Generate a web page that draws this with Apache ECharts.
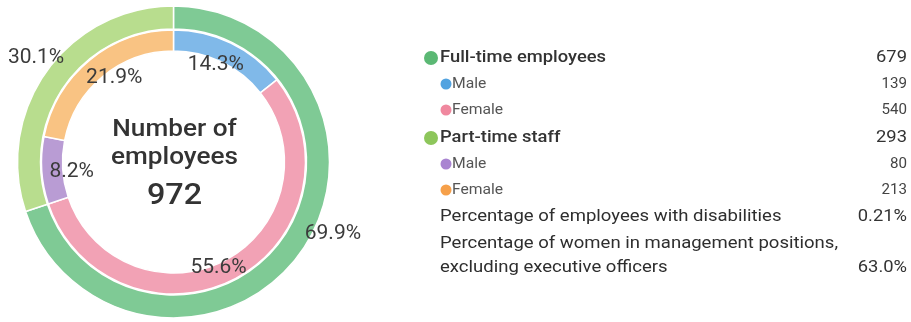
<!DOCTYPE html>
<html><head><meta charset="utf-8">
<script src="https://cdn.jsdelivr.net/npm/echarts@6/dist/echarts.min.js"></script>
<style>html,body{margin:0;padding:0;background:#fff}#c{width:911px;height:322px}</style>
</head><body><div id="c"></div>
<script>
// ---- data ----
const outerNames = ['Full-time employees', 'Part-time staff'];
const outerValues = [679, 293];
const outerPct = ['69.9%', '30.1%'];
const innerNames = ['Male', 'Female', 'Male', 'Female'];
const innerValues = [139, 540, 80, 213];
const innerPct = ['14.3%', '55.6%', '8.2%', '21.9%'];
const centerTitle = ['Number of', 'employees'];
const totalEmployees = 972;
const extraLabels = ['Percentage of employees with disabilities', 'Percentage of women in management positions,\nexcluding executive officers'];
const extraValues = ['0.21%', '63.0%'];

// ---- styles ----
const outerColors = ['#7fca95', '#b8dd8e'];
const innerColors = ['#80b9e9', '#f2a2b5', '#b99cd4', '#f9c383'];
const outerDot = ['#5bb874', '#8dc65b'];
const innerDot = ['#52a3e0', '#f0889f', '#a984d1', '#f6a04a'];
const cx = 173.5, cy = 162;
const FONT = 'Roboto, sans-serif';
const SX = 1.08;

const outerLabelOffsets = [[19, -29], [3, -3]];
const innerLabelOffsets = [[-5, 1], [-7, 10], [7, 3], [10, 0]];

const chart = echarts.init(document.getElementById('c'), null, {renderer: 'canvas'});

const ringBase = {
  type: 'pie', center: [cx, cy], startAngle: 90, clockwise: true, silent: true,
  label: {show: false}, labelLine: {show: false}, animation: false,
  itemStyle: {borderColor: '#fff', borderWidth: 1.5}
};
const labelBase = {
  type: 'pie', center: [cx, cy], startAngle: 90, clockwise: true, silent: true,
  labelLine: {show: false}, animation: false, z: 5,
  itemStyle: {color: 'rgba(0,0,0,0)', borderWidth: 0}
};

const g = [];
const RIGHT = 907;
function txt(x, y, text, font, fill, align, sx, extra) {
  g.push({type: 'text', x: x, y: y, scaleX: sx || SX,
    style: Object.assign({text: text, font: font, fill: fill, align: align || 'left', verticalAlign: 'middle'}, extra || {})});
}
function bigRow(y, color, name, value) {
  g.push({type: 'circle', shape: {cx: 431, cy: y, r: 7}, style: {fill: color}});
  txt(440, y, name, '500 17px ' + FONT, '#333');
  txt(RIGHT, y, String(value), '400 17px ' + FONT, '#333', 'right');
}
function smallRow(y, color, name, value) {
  g.push({type: 'circle', shape: {cx: 446, cy: y, r: 5.5}, style: {fill: color}});
  txt(452, y, name, '400 14.5px ' + FONT, '#555');
  txt(RIGHT, y, String(value), '400 14px ' + FONT, '#444', 'right');
}
const rowY = [58, 84, 110, 138, 164, 190];
bigRow(rowY[0], outerDot[0], outerNames[0], outerValues[0]);
smallRow(rowY[1], innerDot[0], innerNames[0], innerValues[0]);
smallRow(rowY[2], innerDot[1], innerNames[1], innerValues[1]);
bigRow(rowY[3], outerDot[1], outerNames[1], outerValues[1]);
smallRow(rowY[4], innerDot[2], innerNames[2], innerValues[2]);
smallRow(rowY[5], innerDot[3], innerNames[3], innerValues[3]);
// extra stats
txt(440, 217, extraLabels[0], '400 17px ' + FONT, '#2e2e2e', 'left', 1.09);
txt(RIGHT, 217, extraValues[0], '400 17px ' + FONT, '#333', 'right');
txt(440, 256, extraLabels[1], '400 17px ' + FONT, '#2e2e2e', 'left', 1.09, {lineHeight: 24});
txt(RIGHT, 268, extraValues[1], '400 17px ' + FONT, '#333', 'right');

// center text
txt(cx + 1, 130, centerTitle[0], '500 24px ' + FONT, '#333', 'center', 1.09);
txt(cx + 1, 158, centerTitle[1], '500 24px ' + FONT, '#333', 'center', 1.09);
txt(cx + 1, 196, String(totalEmployees), '500 30px ' + FONT, '#333', 'center', 1.08);

chart.setOption({
  animation: false,
  series: [
    Object.assign({}, ringBase, {
      radius: [133, 156],
      data: outerValues.map((v, i) => ({name: outerNames[i], value: v, itemStyle: {color: outerColors[i]}}))
    }),
    Object.assign({}, ringBase, {
      radius: [111, 132],
      data: innerValues.map((v, i) => ({name: innerNames[i], value: v, itemStyle: {color: innerColors[i]}}))
    }),
    Object.assign({}, labelBase, {
      radius: [0, 212],
      data: innerValues.map((v, i) => ({name: innerNames[i], value: v,
        label: {show: true, position: 'inside', formatter: innerPct[i], offset: innerLabelOffsets[i],
          fontFamily: FONT, fontSize: 21, color: '#3b3b3b'}}))
    }),
    Object.assign({}, labelBase, {
      radius: [0, 340],
      data: outerValues.map((v, i) => ({name: outerNames[i], value: v,
        label: {show: true, position: 'inside', formatter: outerPct[i], offset: outerLabelOffsets[i],
          fontFamily: FONT, fontSize: 21, color: '#3b3b3b'}}))
    })
  ],
  graphic: g
});
</script>
</body></html>
